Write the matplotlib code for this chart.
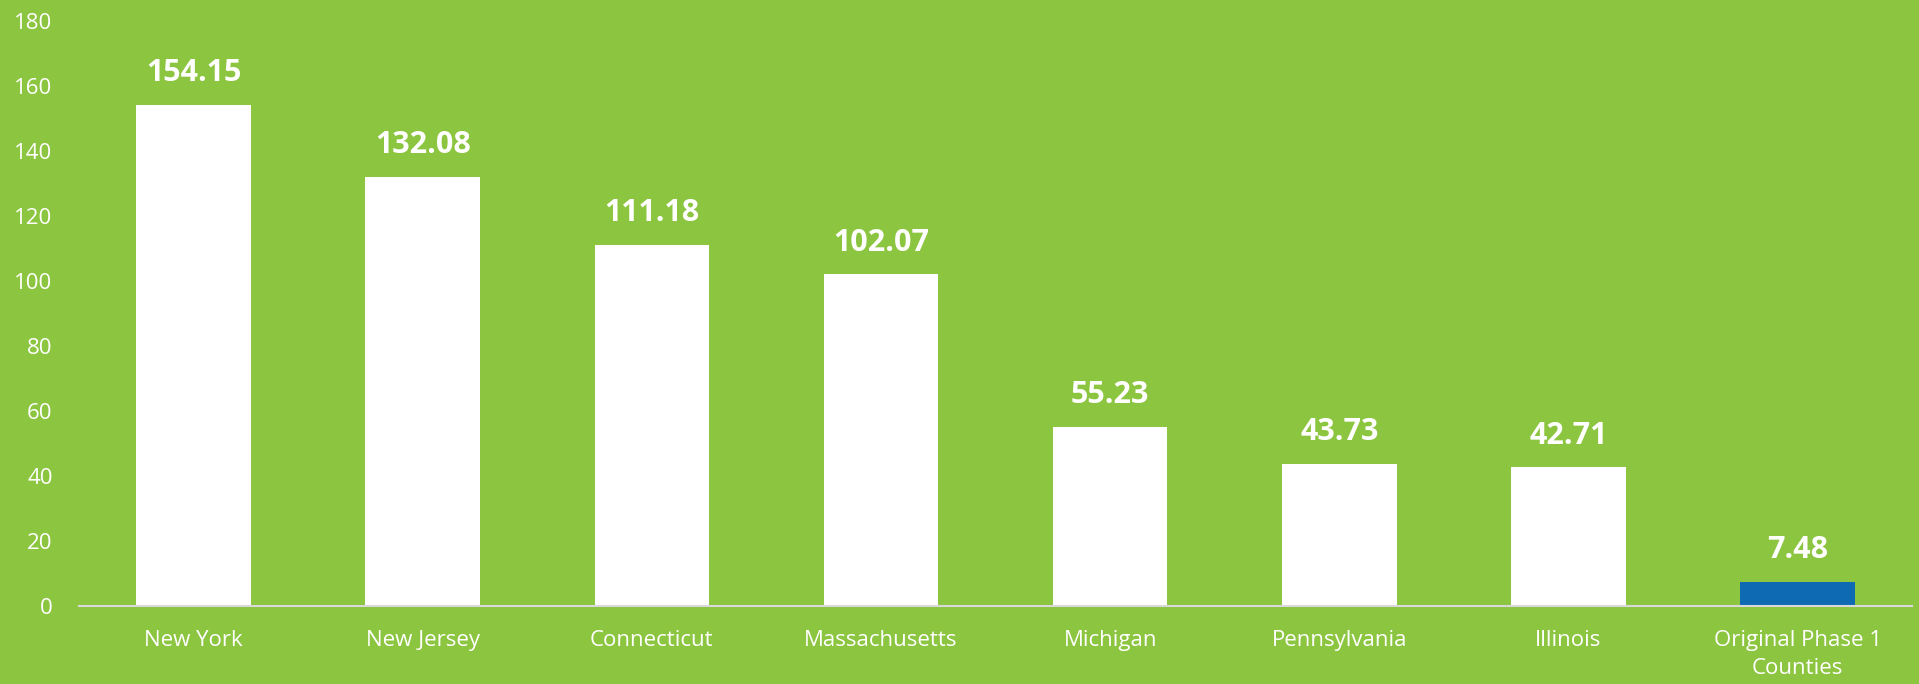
import numpy as np
import matplotlib
matplotlib.use('Agg')
import matplotlib.pyplot as plt

states = ['New York', 'New Jersey', 'Connecticut', 'Massachusetts', 'Michigan',
          'Pennsylvania', 'Illinois', 'Original Phase 1\nCounties']
values = [154.15, 132.08, 111.18, 102.07, 55.23, 43.73, 42.71, 7.48]
bar_colors = ['white'] * 7 + ['#0F6AB4']

green = '#8CC540'
plt.rcParams['font.family'] = ['Open Sans', 'DejaVu Sans']

fig = plt.figure(figsize=(19.19, 6.84), dpi=100, facecolor=green)
ax = fig.add_axes([0.0412, 0.114, 0.9552, 0.8553])
ax.set_facecolor(green)

index = np.arange(len(states))
rects = ax.bar(index, values, 0.5, color=bar_colors, zorder=2)

for r, v in zip(rects, values):
    ax.annotate('%.2f' % v, (r.get_x() + r.get_width() / 2.0, v),
                xytext=(0, 12), textcoords='offset points',
                ha='center', va='bottom', fontsize=22, fontweight='bold', color='white')

ax.set_xlim(-0.5, len(states) - 0.5)
ax.set_ylim(0, 180)
ax.set_yticks(range(0, 181, 20))
ax.set_xticks(index)
ax.set_xticklabels(states, fontsize=16, color='white', linespacing=1.45)
ax.tick_params(axis='y', length=0, pad=19, labelsize=16, labelcolor='white')
ax.tick_params(axis='x', length=0, pad=17)

for s in ['top', 'right', 'left']:
    ax.spines[s].set_visible(False)
ax.spines['bottom'].set_color('#D9D9D9')
ax.spines['bottom'].set_linewidth(1.5)
ax.spines['bottom'].set_zorder(3)

plt.savefig('out.png', dpi=100, facecolor=green)
